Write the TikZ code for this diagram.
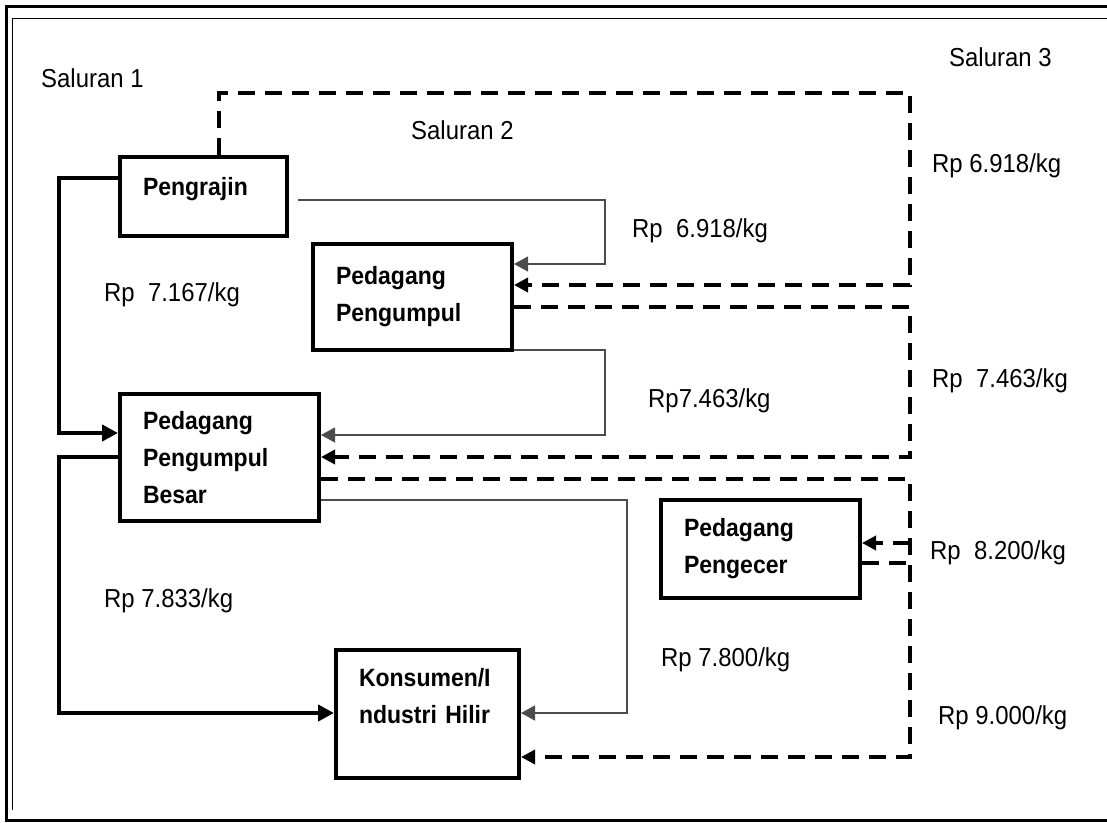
\documentclass[tikz,border=0pt]{standalone}
\usepackage{fontspec}
\setmainfont[FakeStretch=0.92]{Liberation Sans}
\usetikzlibrary{arrows.meta}

\begin{document}
\begin{tikzpicture}[x=1pt,y=-1pt,
  kotak/.style={draw,line width=4pt,outer sep=2pt,inner xsep=23pt,align=left,anchor=north west,
    font=\fontsize{25}{37}\selectfont\bfseries},
  teks/.style={anchor=base west,inner sep=0pt,font=\fontsize{26}{30}\selectfont},
  s1/.style={line width=4pt,-{Triangle[length=16pt,width=16pt]}},
  s2/.style={line width=1.2pt,black!70,-{Triangle[length=14pt,width=15pt]}},
  s3/.style={line width=3.5pt,dash pattern=on 17pt off 10pt,-{Triangle[length=14pt,width=14pt]}}]
\useasboundingbox (0,0) rectangle (1107,822);
%bingkai
\draw[line width=3pt] (1107,6) -- (6,6) -- (6,820) -- (1107,820);
\draw[line width=1.5pt] (1107,18.5) -- (12.5,18.5) -- (12.5,810);
%fin
%kotak
\node[kotak,text width=121pt,minimum height=79pt,text depth=20pt] (pengrajin) at (118,155) {Pengrajin};
\node[kotak,text width=153pt,minimum height=106pt] (pengumpul) at (311,242) {Pedagang\\Pengumpul};
\node[kotak,text width=153pt,minimum height=127pt] (besar) at (118,392) {Pedagang\\Pengumpul\\Besar};
\node[kotak,text width=137pt,minimum height=128pt] (konsumen) at (334,648) {Konsumen/I\\ndustri Hilir\\\mbox{}};
\node[kotak,text width=153pt,minimum height=98pt] (pengecer) at (659,498) {Pedagang\\Pengecer};
%fin
%saluran 1
\draw[s1] ([yshift=-23pt]pengrajin.north west) -- ++(-59,0) |- ([yshift=-41pt]besar.north west);
\draw[s1] ([yshift=-65pt]besar.north west) -- ++(-59,0) |- ([yshift=-65pt]konsumen.north west);
%saluran 2
\draw[s2] ([xshift=9pt,yshift=-45pt]pengrajin.north east) -- ++(307,0) |- ([yshift=-22pt]pengumpul.north east);
\draw[s2] ([yshift=2pt]pengumpul.south east) -- ++(91,0) |- ([yshift=-43pt]besar.north east);
\draw[s2] ([yshift=-108pt]besar.north east) -- ++(306,0) |- ([yshift=-65pt]konsumen.north east);
%saluran 3
\draw[s3] ([xshift=101pt]pengrajin.north west) -- ++(0,-62) -- ++(691,0) |- ([yshift=-43pt]pengumpul.north east);
\draw[s3] ([yshift=-65pt]pengumpul.north east) -- ++(396,0) |- ([yshift=-65pt]besar.north east);
\draw[s3] ([yshift=-87pt]besar.north east) -- ++(589,0) |- ([yshift=-109pt]konsumen.north east);
\coordinate (cabang) at (910,543);
\draw[s3] (cabang) -- ([yshift=-45pt]pengecer.north east);
\draw[s3,-] ([yshift=-65pt]pengecer.north east) -- ++(46,0);
%fin
%label
\node[teks] (sal1) at (41,87) {Saluran 1};
\node[teks] (sal2) at (411,139) {Saluran 2};
\node[teks] (sal3) at (949,66) {Saluran 3};
\node[teks] (h1) at (104,301) {Rp\ \ 7.167/kg};
\node[teks] (h2) at (104,607) {Rp 7.833/kg};
\node[teks] (h3) at (632,237) {Rp\ \ 6.918/kg};
\node[teks] (h4) at (648,407) {Rp7.463/kg};
\node[teks] (h5) at (661,666) {Rp 7.800/kg};
\node[teks] (h6) at (932,172) {Rp 6.918/kg};
\node[teks] (h7) at (932,387) {Rp\ \ 7.463/kg};
\node[teks] (h8) at (930,559) {Rp\ \ 8.200/kg};
\node[teks] (h9) at (938,724) {Rp 9.000/kg};
\end{tikzpicture}
\end{document}
